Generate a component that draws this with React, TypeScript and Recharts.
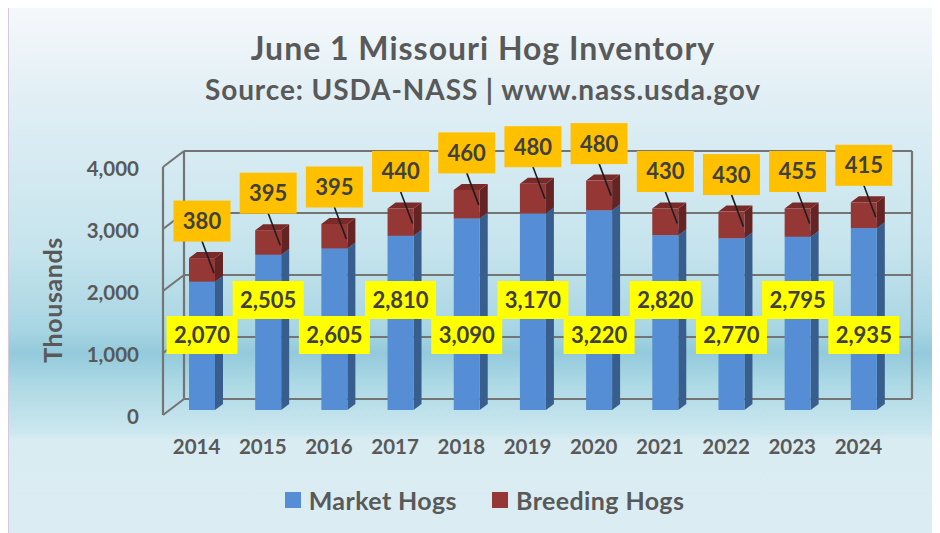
import React from 'react';
import { BarChart, Bar, XAxis, YAxis, ReferenceArea, LabelList, Legend } from 'recharts';

const years = ['2014', '2015', '2016', '2017', '2018', '2019', '2020', '2021', '2022', '2023', '2024'];
const marketHogs = [2070, 2505, 2605, 2810, 3090, 3170, 3220, 2820, 2770, 2795, 2935];
const breedingHogs = [380, 395, 395, 440, 460, 480, 480, 430, 430, 455, 415];
const yTicks = [0, 1000, 2000, 3000, 4000];
const seriesOrder = ['Market Hogs', 'Breeding Hogs'];

const data = years.map((year, i) => ({ year, market: marketHogs[i], breeding: breedingHogs[i] }));

const FONT = 'Lato, "Open Sans", sans-serif';
const TEXT = '#595959';
const LABEL_TEXT = '#404040';
const GRID = '#747474';
// 3D offsets measured from the plane the bars stand in
const BACK = { dx: 15, dy: -11 };
const FRONT = { dx: -6, dy: 5 };
const DEPTH = { dx: 8, dy: 6 };

const fmt = (v: number) => v.toLocaleString('en-US');

// walls + gridlines of the 3D box, drawn from the reference area's rect
const Frame = (props: any) => {
  const { x, y, width, height } = props;
  const max = yTicks[yTicks.length - 1];
  const yAt = (v: number) => y + height - (v / max) * height;
  const bl = x + BACK.dx;
  const br = x + width + BACK.dx;
  const fl = x + FRONT.dx;
  const line = { stroke: GRID, strokeWidth: 2.2 };
  return (
    <g>
      {yTicks.map((v) => (
        <g key={v}>
          <line x1={bl} y1={yAt(v) + BACK.dy} x2={br} y2={yAt(v) + BACK.dy} {...line} />
          <line x1={fl} y1={yAt(v) + FRONT.dy} x2={bl} y2={yAt(v) + BACK.dy} {...line} />
        </g>
      ))}
      <line x1={fl} y1={yAt(0) + FRONT.dy} x2={fl} y2={yAt(max) + FRONT.dy} {...line} />
      <line x1={bl} y1={yAt(0) + BACK.dy} x2={bl} y2={yAt(max) + BACK.dy} {...line} />
      <line x1={br} y1={yAt(0) + BACK.dy} x2={br} y2={yAt(max) + BACK.dy} {...line} />
    </g>
  );
};

const Box3D = (props: any) => {
  const { x, y, width, height, front, side, top } = props;
  if (!height) return null;
  const { dx, dy } = DEPTH;
  const r = x + width;
  return (
    <g>
      <polygon points={`${r},${y} ${r + dx},${y - dy} ${r + dx},${y + height - dy} ${r},${y + height}`} fill={side} />
      <polygon points={`${x},${y} ${x + dx},${y - dy} ${r + dx},${y - dy} ${r},${y}`} fill={top} />
      <rect x={x} y={y} width={width} height={height} fill={front} />
    </g>
  );
};

const MarketLabel = (props: any) => {
  const vb = props.viewBox ?? props;
  const { x, y, width, height } = vb;
  const cx = x + width / 2;
  const cy = y + height - (props.index % 2 === 0 ? 75 : 110);
  return (
    <g>
      <rect x={cx - 35.5} y={cy - 19} width={71} height={38} fill="#ffff00" />
      <text x={cx} y={cy} dy="0.36em" textAnchor="middle" fill={LABEL_TEXT} fontFamily={FONT} fontWeight="bold" fontSize={22}>
        {fmt(props.value)}
      </text>
    </g>
  );
};

const BreedingLabel = (props: any) => {
  const vb = props.viewBox ?? props;
  const { x, y, width } = vb;
  const cx = x + width / 2;
  const cy = y - 37;
  return (
    <g>
      <line x1={cx} y1={cy + 20} x2={x + width - 1} y2={y + 15} stroke="#1e1e1e" strokeWidth={1.6} />
      <rect x={cx - 28.5} y={cy - 20.5} width={57} height={41} fill="#ffc000" />
      <text x={cx} y={cy} dy="0.36em" textAnchor="middle" fill={LABEL_TEXT} fontFamily={FONT} fontWeight="bold" fontSize={22}>
        {fmt(props.value)}
      </text>
    </g>
  );
};

const YTick = (props: any) => (
  <text x={props.x - 30} y={props.y + 7} dy="0.36em" textAnchor="end" fill={TEXT} fontFamily={FONT} fontWeight="bold" fontSize={20.5}>
    {fmt(props.payload.value)}
  </text>
);

const XTick = (props: any) => (
  <text x={props.x - 5.5} y={props.y + 36.5} dy="0.36em" textAnchor="middle" fill={TEXT} fontFamily={FONT} fontWeight="bold" fontSize={20.5}>
    {props.payload.value}
  </text>
);

const AxisTitle = (props: any) => {
  const vb = props.viewBox ?? { x: 40, y: 154, width: 120, height: 248 };
  const cx = vb.x + 4;
  const cy = vb.y + vb.height / 2 + 14;
  return (
    <text x={cx} y={cy} dy="0.36em" textAnchor="middle" transform={`rotate(-90 ${cx} ${cy})`} fill={TEXT} fontFamily={FONT} fontWeight="bold" fontSize={25} letterSpacing={0.6}>
      Thousands
    </text>
  );
};

const LegendContent = (props: any) => (
  <div style={{ display: 'flex', justifyContent: 'center', paddingLeft: 19, fontFamily: FONT, fontWeight: 'bold', fontSize: 25, letterSpacing: 0.4, color: TEXT }}>
    {(props.payload || []).map((e: any, i: number) => (
      <span key={e.value} style={{ display: 'flex', alignItems: 'center', marginLeft: i ? 35 : 0 }}>
        <span style={{ width: 16, height: 16, background: e.color, marginRight: 8, display: 'inline-block' }} />
        {e.value}
      </span>
    ))}
  </div>
);

export default function App() {
  return (
    <div
      style={{
        position: 'relative',
        width: 932,
        height: 525,
        borderLeft: '1px solid #d8c8dc',
        boxSizing: 'border-box',
        background:
          'linear-gradient(to bottom, #f5f8fb 0px, #e1eff5 90px, #c6e4ed 240px, #a9d6e3 320px, #93cadb 345px, #acd9e5 375px, #cde7ef 425px, #d9ecf2 432px, #dbedf3 525px)',
      }}
    >
      <div style={{ position: 'absolute', top: 24, left: 0, width: 932, paddingLeft: 16, boxSizing: 'border-box', textAlign: 'center', fontFamily: FONT, fontWeight: 'bold', fontSize: 32, letterSpacing: 1, lineHeight: 1, color: TEXT }}>
        June 1 Missouri Hog Inventory
      </div>
      <div style={{ position: 'absolute', top: 67, left: 0, width: 932, paddingLeft: 16, boxSizing: 'border-box', textAlign: 'center', fontFamily: FONT, fontWeight: 'bold', fontSize: 28, letterSpacing: 0.9, lineHeight: 1, color: TEXT }}>
        Source: USDA-NASS | www.nass.usda.gov
      </div>
      <div style={{ position: 'absolute', top: 0, left: 0 }}>
        <BarChart width={932} height={525} data={data} margin={{ top: 154, right: 44, left: 40, bottom: 63 }} barSize={26}>
          <ReferenceArea y1={0} y2={4000} shape={<Frame />} fill="none" ifOverflow="visible" />
          <XAxis dataKey="year" axisLine={false} tickLine={false} tickSize={0} tickMargin={0} height={60} tick={<XTick />} interval={0} />
          <YAxis
            domain={[0, 4000]}
            ticks={yTicks}
            axisLine={false}
            tickLine={false}
            tickSize={0}
            tickMargin={0}
            width={120}
            tick={<YTick />}
            label={<AxisTitle />}
          />
          <Legend
            layout="horizontal"
            verticalAlign="middle"
            align="center"
            itemSorter={(item: any) => seriesOrder.indexOf(item.value)}
            content={<LegendContent />}
            wrapperStyle={{ top: 477, left: 0, width: 932 }}
          />
          <Bar
            dataKey="market"
            name="Market Hogs"
            stackId="a"
            fill="#558ed5"
            isAnimationActive={false}
            shape={(p: any) => <Box3D {...p} front="#558ed5" side="#385e8d" top="#4a7cbb" />}
          >
            <LabelList dataKey="market" content={<MarketLabel />} />
          </Bar>
          <Bar
            dataKey="breeding"
            name="Breeding Hogs"
            stackId="a"
            fill="#953735"
            isAnimationActive={false}
            shape={(p: any) => <Box3D {...p} front="#953735" side="#632423" top="#7a2b29" />}
          >
            <LabelList dataKey="breeding" content={<BreedingLabel />} />
          </Bar>
        </BarChart>
      </div>
    </div>
  );
}
